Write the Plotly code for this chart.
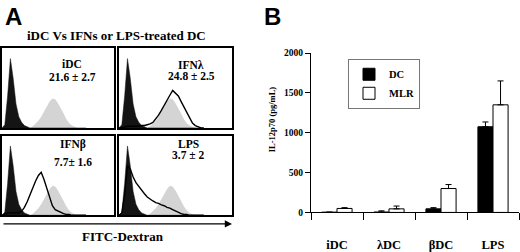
import plotly.graph_objects as go

# ---------------- data ----------------
# Panel A: FITC-Dextran histograms (relative fluorescence bins, % of max counts)
fl_bins = [0, 2.5, 5, 7.5, 10, 12.5, 15, 17.5, 20, 22.5, 25, 27.5, 30, 32.5, 35, 37.5,
           40, 42.5, 45, 47.5, 50, 52.5, 55, 57.5, 60, 62.5, 65, 67.5, 70, 72.5, 75]
isotype = [0, 4, 40, 87, 62, 30, 14, 7, 3, 1, 0, 0, 0, 0, 0, 0,
           0, 0, 0, 0, 0, 0, 0, 0, 0, 0, 0, 0, 0, 0, 0]
idc_ref = [0, 0, 0, 0, 0, 0, 0, 0, 0, 0, 0, 2, 5, 9, 14, 20,
           27, 33, 37, 36, 31, 25, 18, 11, 6, 3, 1, 0, 0, 0, 0]
ifn_lambda = [0, 0, 1, 2, 2, 2, 2, 2, 3, 3, 4, 5, 7, 11, 16, 22,
              29, 36, 41, 47, 43, 40, 33, 26, 18, 11, 6, 3, 1, 0, 0]
ifn_beta = [0, 2, 3, 3, 3, 3, 3, 5, 10, 17, 26, 35, 43, 50, 54, 45,
            33, 21, 12, 7, 5, 3, 2, 1, 1, 0, 0, 0, 0, 0, 0]
lps_curve = [0, 3, 25, 62, 58, 48, 41, 36, 32, 27, 23, 20, 18, 16, 15, 13,
             12, 10, 9, 7, 5, 3, 2, 1, 1, 0, 0, 0, 0, 0, 0]

panel_names = ["iDC", "IFNλ", "IFNβ", "LPS"]
panel_values = ["21.6 ± 2.7", "24.8 ± 2.5", "7.7± 1.6", "3.7 ± 2"]
panel_curves = [None, ifn_lambda, ifn_beta, lps_curve]

# Panel B: IL-12p70 (pg/mL)
groups = ["iDC", "λDC", "βDC", "LPS"]
dc_values = [3, 5, 45, 1075]
dc_errors = [0, 15, 15, 60]
mlr_values = [50, 45, 300, 1350]
mlr_errors = [10, 35, 50, 300]
y_ticks = [0, 500, 1000, 1500, 2000]

# ---------------- layout helpers ----------------
W, H = 520, 252


def px(x):
    return x / W


def py(y):
    return 1 - y / H


SERIF = "Liberation Serif"
SANS = "Liberation Sans"

boxes = [  # (left, right, top, bottom) in pixels
    (2, 114, 45, 128),
    (119, 232, 45, 128),
    (2, 114, 136, 219),
    (119, 232, 136, 219),
]
label_pos = [  # (x center, name y, value y)
    (72, 61, 75),
    (191, 62, 74),
    (73, 145, 163),
    (188, 145, 156),
]

fig = go.Figure()
layout = dict(
    width=W, height=H, margin=dict(l=0, r=0, t=0, b=0),
    paper_bgcolor="white", plot_bgcolor="white", showlegend=True,
    bargap=0.42, bargroupgap=0, barmode="group",
)
annotations = []


def txt(x, y, text, size, family=SERIF, **kw):
    d = dict(x=px(x), y=py(y), xref="paper", yref="paper", xanchor="center",
             yanchor="middle", text=text, showarrow=False,
             font=dict(family=family, size=size, color="black", weight="bold"))
    d.update(kw)
    return d


for i in range(4):
    n = i + 1
    xa = "x" if n == 1 else f"x{n}"
    ya = "y" if n == 1 else f"y{n}"
    fig.add_trace(go.Scatter(x=fl_bins, y=idc_ref, xaxis=xa, yaxis=ya, mode="lines",
                             fill="tozeroy", fillcolor="#d4d4d4",
                             line=dict(width=0, color="#d4d4d4"), showlegend=False,
                             hoverinfo="skip"))
    fig.add_trace(go.Scatter(x=fl_bins, y=isotype, xaxis=xa, yaxis=ya, mode="lines",
                             fill="tozeroy", fillcolor="#141414",
                             line=dict(width=0.5, color="#141414"), showlegend=False,
                             hoverinfo="skip"))
    if panel_curves[i] is not None:
        fig.add_trace(go.Scatter(x=fl_bins, y=panel_curves[i], xaxis=xa, yaxis=ya,
                                 mode="lines", line=dict(width=1.4, color="black"),
                                 showlegend=False, hoverinfo="skip"))
    l, r, t, b = boxes[i]
    axis_common = dict(showline=True, mirror=True, linewidth=2, linecolor="black",
                       showticklabels=False, ticks="", showgrid=False, zeroline=False,
                       fixedrange=True)
    layout["xaxis" if n == 1 else f"xaxis{n}"] = dict(
        domain=[px(l), px(r)], range=[0, 100], anchor=ya, **axis_common)
    layout["yaxis" if n == 1 else f"yaxis{n}"] = dict(
        domain=[py(b), py(t)], range=[0, 100], anchor=xa, **axis_common)
    cx, ny, vy = label_pos[i]
    annotations.append(txt(cx, ny, panel_names[i], 11.5))
    annotations.append(txt(cx, vy, panel_values[i], 11.5))

# Panel B bars
fig.add_trace(go.Bar(x=groups, y=dc_values, name="DC", xaxis="x5", yaxis="y5",
                     marker=dict(color="black", line=dict(color="black", width=1)),
                     error_y=dict(type="data", array=dc_errors,
                                  arrayminus=[0] * len(dc_errors), symmetric=False,
                                  color="black", thickness=1, width=3)))
fig.add_trace(go.Bar(x=groups, y=mlr_values, name="MLR", xaxis="x5", yaxis="y5",
                     marker=dict(color="white", line=dict(color="black", width=1)),
                     error_y=dict(type="data", array=mlr_errors,
                                  arrayminus=[0] * len(mlr_errors), symmetric=False,
                                  color="black", thickness=1, width=3)))

layout["xaxis5"] = dict(domain=[px(311), px(519)], anchor="y5", type="category",
                        showline=True, linecolor="black", linewidth=1,
                        ticks="outside", tickson="boundaries", ticklen=7,
                        tickcolor="black", tickwidth=1, showgrid=False, zeroline=False,
                        ticklabelstandoff=21,
                        tickfont=dict(family=SERIF, size=12.5, color="black", weight="bold"))
layout["yaxis5"] = dict(domain=[py(216), py(50)], anchor="x5", range=[0, 2000],
                        tickvals=y_ticks, showline=True, linecolor="black", linewidth=1,
                        ticks="outside", ticklen=5, tickcolor="black", tickwidth=1,
                        showgrid=False, zeroline=False,
                        tickfont=dict(family=SERIF, size=9.5, color="black", weight="bold"))

layout["legend"] = dict(x=px(348), y=py(56), xanchor="left", yanchor="top",
                        bordercolor="#777", borderwidth=1, bgcolor="white",
                        font=dict(family=SERIF, size=10.5, color="black", weight="bold"),
                        itemwidth=30, tracegroupgap=0)

# Titles / labels
annotations += [
    txt(13, 12, "A", 24, family=SANS),
    txt(272, 12, "B", 24, family=SANS),
    txt(116, 32, "iDC Vs IFNs or LPS-treated DC", 13),
    txt(123, 241, "FITC-Dextran", 13),
    dict(x=px(232), y=py(228), xref="paper", yref="paper", text="",
         showarrow=True, ax=-230, ay=0, arrowhead=2, arrowsize=1.2,
         arrowwidth=1.2, arrowcolor="black"),
    txt(272, 119, "IL-12p70 (pg/mL)", 8.5, textangle=-90),
]
layout["annotations"] = annotations
fig.update_layout(**layout)
fig.write_html("out.html", config={"displayModeBar": False},
               post_script="document.body.style.margin='0px';")
